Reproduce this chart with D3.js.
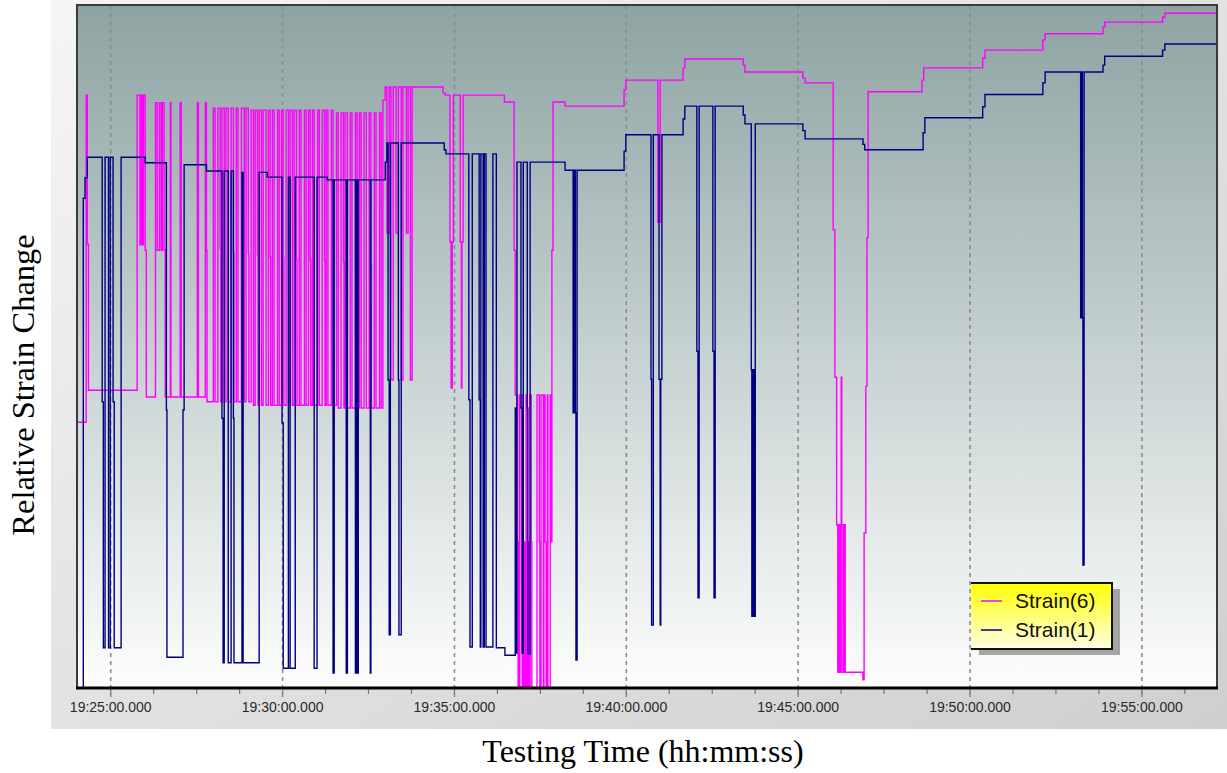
<!DOCTYPE html>
<html>
<head>
<meta charset="utf-8">
<script src="https://cdnjs.cloudflare.com/ajax/libs/d3/7.8.5/d3.min.js"></script>
<style>
body { margin: 0; background: #fff; }
svg { display: block; }
</style>
</head>
<body>
<svg id="chart" width="1227" height="773"></svg>
<script>
// times are seconds counted from 19:25:00, values are relative strain (0..100)
var T0 = new Date(2000, 0, 1, 19, 25, 0);
var timeRange = [-58, 1932];
var seriesNames = ['Strain(6)', 'Strain(1)'];
var seriesColors = ['#ff00ff', '#000080'];
var majorTicks = [0, 300, 600, 900, 1200, 1500, 1800];
var minorTicks = [0, 75, 150, 225, 300, 375, 450, 525, 600, 675, 750, 825, 900, 975, 1050, 1125, 1200, 1275, 1350, 1425, 1500, 1575, 1650, 1725, 1800, 1875];

var strain6 = [
	[-58,38.9],[-42,86.8],[-40,65.0],[-38,43.6],
	[47,86.8],[52,64.9],[54,86.8],[56,64.9],[58,86.8],[61,64.1],[63,42.6],
	[79,85.7],[82,64.1],[86,85.7],[89,64.1],[91,85.7],[94,64.1],[96,42.6],
	[105,85.7],[106,42.6],[122,85.7],[124,42.6],[152,85.7],[154,42.6],[166,85.7],[168,64.1],[169,41.9],
	[180,84.9],[183,41.9],[188,84.9],[192,64.3],[193,41.9],[195,84.9],[199,41.9],[202,84.9],[206,41.9],
	[211,84.9],[215,63.8],[216,41.9],[220,84.9],[223,41.9],[229,84.9],[234,41.9],[237,84.9],[241,63.6],[242,41.9],
	[246,84.6],[250,41.4],[253,84.6],[257,63.4],[258,41.4],[260,84.6],[264,41.4],[267,84.6],[272,41.4],
	[276,84.6],[279,63.1],[280,41.4],[283,84.6],[286,41.4],[292,84.6],[295,41.4],[299,84.6],[302,63.0],[303,41.4],
	[307,84.6],[311,41.4],[314,84.6],[318,41.4],[321,84.6],[325,62.8],[326,41.4],[330,84.6],[333,41.4],
	[339,84.6],[342,41.4],[346,84.6],[349,62.6],[350,41.4],[353,84.6],[356,41.4],[362,84.6],[365,41.4],
	[370,84.6],[374,62.5],[375,41.4],[377,84.6],[380,41.4],[386,84.6],[389,41.4],
	[395,84.2],[398,41.0],[403,84.2],[407,62.3],[408,41.0],[410,84.2],[414,41.0],[419,84.2],[422,41.0],
	[428,84.2],[431,62.1],[432,41.0],[435,84.2],[438,41.0],[443,84.2],[447,41.0],[452,84.2],[455,62.0],[456,41.0],
	[461,84.2],[464,41.0],[470,84.2],[473,41.0],
	[476,86.1],[480,88.0],
	[483,66.6],[487,88.0],[490,45.1],[494,88.0],[499,66.6],[503,88.0],[508,45.1],[511,88.0],[517,66.6],[520,88.0],[524,45.1],[527,88.0],
	[581,87.1],[585,86.8],
	[593,65.3],[595,43.9],[597,65.3],[599,86.8],[611,65.3],[613,43.9],[614,65.3],[616,86.8],
	[688,85.8],[705,64.1],[707,42.9],
	[710,21.4],[712,0],[714,42.9],[715,0],[719,42.9],[721,0],[722,21.4],[724,0],[726,42.9],[728,0],[729,21.4],[731,0],[733,42.9],[735,21.4],[736,0],
	[745,42.9],[749,21.4],[750,0],[752,42.9],[756,0],[757,42.9],[759,21.4],[761,0],[763,42.9],[764,0],[768,42.9],[770,21.4],[771,64.1],[773,85.8],
	[794,85.2],[897,87.6],[900,89.0],[956,68.2],[960,89.0],
	[1000,90.8],[1003,92.1],[1105,91.2],[1108,90.2],[1209,89.3],[1213,88.6],
	[1262,67.1],[1265,45.5],[1268,23.9],[1270,2.3],[1272,23.9],[1274,2.3],[1276,45.5],[1277,23.9],[1279,2.3],[1281,23.9],[1283,2.3],
	[1314,1.2],[1316,22.7],[1319,44.2],[1321,65.9],[1323,87.3],
	[1417,89.0],[1420,90.8],[1523,92.2],[1527,93.4],[1628,94.9],[1632,95.8],[1733,96.8],[1736,97.5],[1837,98.2],[1841,98.8],[1932,98.8]
];

var strain1 = [
	[-58,0],[-47,71.7],[-44,74.7],[-40,77.7],
	[-14,41.9],[-12,5.9],[-9,77.7],[-3,5.9],[0,77.7],[5,41.9],[7,5.9],[19,77.7],
	[61,76.9],[98,40.7],[99,4.5],[127,40.7],[129,76.6],[168,75.7],
	[195,39.5],[197,3.7],[199,75.7],[206,3.7],[211,75.7],[215,39.5],[216,3.7],[230,75.5],[232,3.7],[260,75.5],
	[274,74.8],[300,38.8],[302,2.9],[311,74.8],[314,2.9],[323,74.8],[356,2.9],[361,74.8],[379,74.4],
	[389,2.2],[391,74.4],[412,2.2],[414,74.4],[428,2.2],[429,74.4],[431,2.2],[433,74.4],[454,2.2],[455,74.4],
	[480,77.0],[483,79.8],[485,45.1],[487,7.8],[489,79.8],[503,45.1],[504,7.8],[508,79.8],
	[583,78.8],[586,78.2],
	[626,42.2],[628,6.0],[632,78.2],[644,42.2],[646,6.0],[647,78.2],[651,6.0],[653,78.2],[656,6.0],[668,78.2],[674,5.9],[689,4.8],
	[707,41.0],[709,5.1],[710,77.0],[717,41.0],[719,5.1],[721,77.0],[728,41.0],[729,5.0],[733,77.0],
	[794,75.8],[808,40.3],[810,75.8],[812,40.3],[813,4.1],[815,75.8],
	[897,78.6],[900,81.0],[944,45.2],[945,9.2],[948,81.0],[958,45.2],[960,9.2],[961,45.2],[963,81.0],
	[1000,83.3],[1003,85.2],[1024,49.3],[1026,13.2],[1028,85.2],[1052,49.3],[1054,13.2],[1056,85.2],
	[1105,83.9],[1108,82.6],[1119,46.6],[1120,10.5],[1122,46.6],[1124,10.5],[1126,82.6],
	[1209,81.6],[1213,80.4],[1314,79.6],[1317,78.8],[1419,81.3],[1422,83.5],[1523,85.1],[1527,86.9],[1628,88.6],[1632,90.2],
	[1694,54.2],[1696,90.2],[1697,54.2],[1698,18.0],[1700,90.2],
	[1733,91.2],[1736,92.5],[1837,93.4],[1841,94.3],[1932,94.3]
];

var series = [strain6, strain1];

var plotLeft = 77, plotRight = 1217, plotTop = 5, plotBottom = 688;

function t(s) { return new Date(T0.getTime() + s * 1000); }

var svg = d3.select('#chart');
var defs = svg.append('defs');

var panelGrad = defs.append('linearGradient').attr('id', 'panelGrad')
	.attr('x1', 0).attr('y1', 0).attr('x2', 1).attr('y2', 1);
panelGrad.append('stop').attr('offset', '0%').attr('stop-color', '#f5f5f5');
panelGrad.append('stop').attr('offset', '100%').attr('stop-color', '#cfcfcf');

var plotGrad = defs.append('linearGradient').attr('id', 'plotGrad')
	.attr('x1', 0).attr('y1', 0).attr('x2', 0).attr('y2', 1);
plotGrad.append('stop').attr('offset', '0%').attr('stop-color', '#8ea3a3');
plotGrad.append('stop').attr('offset', '55%').attr('stop-color', '#cbd5d5');
plotGrad.append('stop').attr('offset', '100%').attr('stop-color', '#fdfdfd');

var legGrad = defs.append('linearGradient').attr('id', 'legGrad')
	.attr('x1', 0).attr('y1', 0).attr('x2', 0).attr('y2', 1);
legGrad.append('stop').attr('offset', '0%').attr('stop-color', '#ffff00');
legGrad.append('stop').attr('offset', '100%').attr('stop-color', '#ffffe6');

defs.append('clipPath').attr('id', 'plotClip')
	.append('rect').attr('x', plotLeft).attr('y', plotTop)
	.attr('width', plotRight - plotLeft).attr('height', plotBottom - plotTop);

var x = d3.scaleTime().domain([t(timeRange[0]), t(timeRange[1])]).range([plotLeft, plotRight]);
var y = d3.scaleLinear().domain([0, 100]).range([plotBottom, plotTop]);

// outer panel
svg.append('rect').attr('x', 51).attr('y', 0).attr('width', 1176).attr('height', 729)
	.attr('fill', 'url(#panelGrad)');

// plot background
svg.append('rect').attr('x', plotLeft).attr('y', plotTop)
	.attr('width', plotRight - plotLeft).attr('height', plotBottom - plotTop)
	.attr('fill', 'url(#plotGrad)');

// dashed grid lines (they run through the axis as major ticks)
var grid = svg.append('g').attr('transform', 'translate(0,' + plotTop + ')')
	.call(d3.axisBottom(x).tickValues(majorTicks.map(t)).tickSize(plotBottom - plotTop + 10).tickFormat(''));
grid.select('.domain').remove();
grid.selectAll('line').attr('stroke', '#8c8c8c').attr('stroke-width', 1.6).attr('stroke-dasharray', '4,4');

// minor ticks
var minor = svg.append('g').attr('transform', 'translate(0,' + plotBottom + ')')
	.call(d3.axisBottom(x).tickValues(minorTicks.map(t)).tickSize(6).tickFormat(''));
minor.select('.domain').remove();
minor.selectAll('line').attr('stroke', '#777').attr('stroke-width', 1.2);

// series lines
var line = d3.line()
	.x(function(d) { return x(t(d[0])); })
	.y(function(d) { return y(d[1]); })
	.curve(d3.curveStepAfter);

svg.append('g').attr('clip-path', 'url(#plotClip)')
	.selectAll('path')
	.data(series)
	.enter()
	.append('path')
		.attr('d', line)
		.attr('fill', 'none')
		.attr('stroke', function(d, i) { return seriesColors[i]; })
		.attr('stroke-width', 1.4);

// frame
svg.append('rect').attr('x', plotLeft).attr('y', plotTop)
	.attr('width', plotRight - plotLeft).attr('height', plotBottom - plotTop)
	.attr('fill', 'none').attr('stroke', '#3a3a3a').attr('stroke-width', 2);
svg.append('line').attr('x1', plotLeft - 1).attr('x2', plotRight + 1).attr('y1', plotBottom).attr('y2', plotBottom)
	.attr('stroke', '#000').attr('stroke-width', 3);

// tick labels
var labels = svg.append('g').attr('transform', 'translate(0,' + plotBottom + ')')
	.call(d3.axisBottom(x).tickValues(majorTicks.map(t)).tickSize(0).tickPadding(14)
		.tickFormat(d3.timeFormat('%H:%M:%S.%L')));
labels.select('.domain').remove();
labels.attr('font-size', null).attr('font-family', null);
labels.selectAll('text')
	.style('font-family', 'Liberation Sans, Arial, sans-serif')
	.style('font-size', '14px')
	.attr('fill', '#2a2a2a');

// axis titles
svg.append('text').attr('x', 643).attr('y', 762)
	.attr('text-anchor', 'middle')
	.attr('font-family', 'Liberation Serif, Times New Roman, serif')
	.attr('font-size', 32)
	.attr('fill', '#000')
	.text('Testing Time (hh:mm:ss)');

svg.append('text').attr('transform', 'translate(34,385) rotate(-90)')
	.attr('text-anchor', 'middle')
	.attr('font-family', 'Liberation Serif, Times New Roman, serif')
	.attr('font-size', 32.5)
	.attr('fill', '#000')
	.text('Relative Strain Change');

// legend
var lx = 971, ly = 583, lw = 141, lh = 66;
var legend = svg.append('g');
legend.append('rect').attr('x', lx + 8).attr('y', ly + 6).attr('width', lw).attr('height', lh)
	.attr('fill', '#8a8a8a').attr('opacity', 0.75);
legend.append('rect').attr('x', lx).attr('y', ly).attr('width', lw).attr('height', lh)
	.attr('fill', 'url(#legGrad)');
legend.append('path')
	.attr('d', 'M' + lx + ',' + ly + 'H' + (lx + lw) + 'V' + (ly + lh) + 'H' + lx)
	.attr('fill', 'none').attr('stroke', '#111').attr('stroke-width', 2);

var items = legend.selectAll('g.item')
	.data(seriesNames)
	.enter()
	.append('g')
		.attr('class', 'item')
		.attr('transform', function(d, i) { return 'translate(' + lx + ',' + (ly + 18 + i * 29) + ')'; });
items.append('line').attr('x1', 10).attr('x2', 31).attr('y1', 0).attr('y2', 0)
	.attr('stroke', function(d, i) { return seriesColors[i]; }).attr('stroke-width', 1.5);
items.append('text').attr('x', 44).attr('y', 7)
	.attr('font-family', 'Liberation Sans, Arial, sans-serif')
	.attr('font-size', 21)
	.attr('fill', '#111')
	.text(function(d) { return d; });
</script>
</body>
</html>
